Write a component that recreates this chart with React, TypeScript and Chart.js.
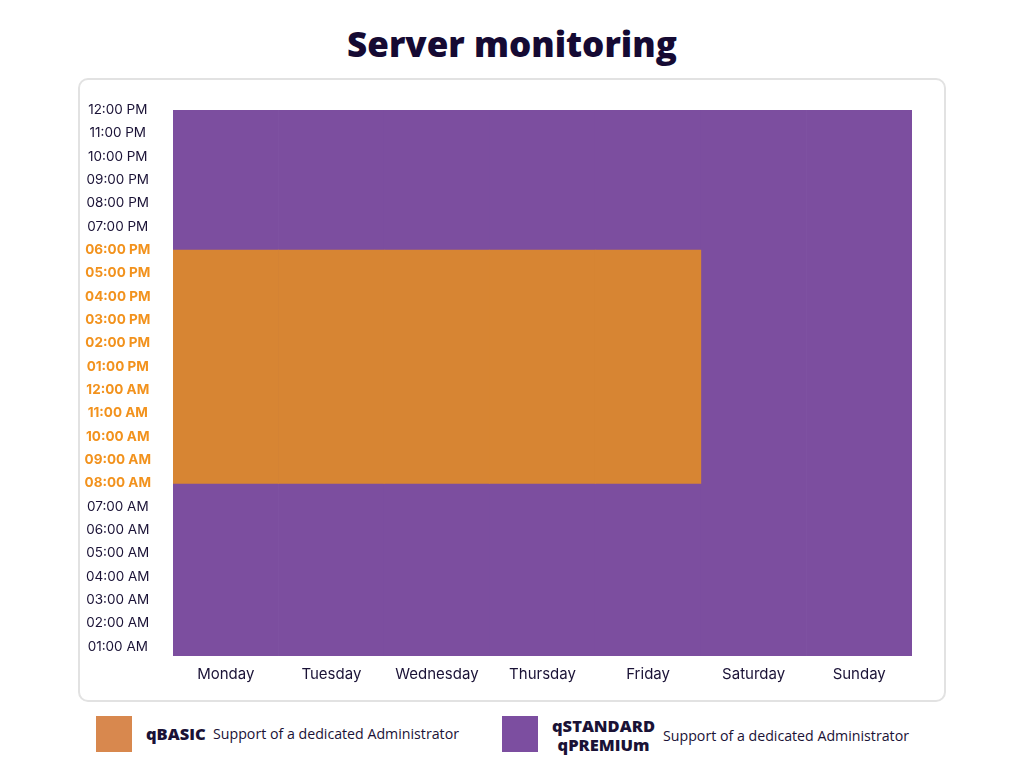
import React, { useEffect, useRef } from 'react';
import { Chart, registerables } from 'chart.js';

Chart.register(...registerables);

const days = ['Monday', 'Tuesday', 'Wednesday', 'Thursday', 'Friday', 'Saturday', 'Sunday'];
const hourValues = [1, 2, 3, 4, 5, 6, 7, 8, 9, 10, 11, 12, 13, 14, 15, 16, 17, 18, 19, 20, 21, 22, 23, 24];
const hourLabels = [
  '01:00 AM', '02:00 AM', '03:00 AM', '04:00 AM', '05:00 AM', '06:00 AM', '07:00 AM', '08:00 AM',
  '09:00 AM', '10:00 AM', '11:00 AM', '12:00 AM', '01:00 PM', '02:00 PM', '03:00 PM', '04:00 PM',
  '05:00 PM', '06:00 PM', '07:00 PM', '08:00 PM', '09:00 PM', '10:00 PM', '11:00 PM', '12:00 PM',
];
const basicStart = 8;
const basicEnd = 18;
const basicCoverage = [[8, 18], [8, 18], [8, 18], [8, 18], [8, 18], null, null];
const premiumCoverage = [[0, 24], [0, 24], [0, 24], [0, 24], [0, 24], [0, 24], [0, 24]];

const PURPLE = '#7C4E9F';
const ORANGE = '#D78533';
const LABEL_ORANGE = '#F2921D';
const DARK = '#1A1236';
const FONT = 'Inter, "Open Sans", sans-serif';

export default function App() {
  const canvasRef = useRef<HTMLCanvasElement | null>(null);

  useEffect(() => {
    if (!canvasRef.current) return;
    const chart = new Chart(canvasRef.current, {
      type: 'bar',
      data: {
        labels: days,
        datasets: [
          {
            label: 'qBASIC',
            data: basicCoverage as any,
            backgroundColor: ORANGE,
            barPercentage: 1,
            categoryPercentage: 1,
            grouped: false,
            borderWidth: 0,
          },
          {
            label: 'qSTANDARD qPREMIUm',
            data: premiumCoverage as any,
            backgroundColor: PURPLE,
            barPercentage: 1,
            categoryPercentage: 1,
            grouped: false,
            borderWidth: 0,
          },
        ],
      },
      options: {
        animation: false,
        responsive: true,
        maintainAspectRatio: false,
        layout: { autoPadding: false, padding: { left: 0, top: 29, right: 32, bottom: 0 } },
        plugins: { legend: { display: false }, tooltip: { enabled: false }, title: { display: false } },
        scales: {
          x: {
            grid: { display: false },
            border: { display: false },
            ticks: {
              color: DARK,
              padding: 1,
              font: { family: FONT, size: 15 },
              maxRotation: 0,
            },
            afterFit: (scale: any) => {
              scale.height = 44;
            },
          },
          y: {
            min: 0.6,
            max: 24,
            grid: { display: false, drawTicks: false },
            border: { display: false },
            afterBuildTicks: (scale: any) => {
              scale.ticks = hourValues.map((v) => ({ value: v }));
            },
            afterFit: (scale: any) => {
              scale.width = 93;
            },
            ticks: {
              crossAlign: 'center',
              padding: 22,
              autoSkip: false,
              callback: (v: any) => hourLabels[Number(v) - 1],
              color: (ctx: any) =>
                ctx.tick && ctx.tick.value >= basicStart && ctx.tick.value <= basicEnd ? LABEL_ORANGE : DARK,
              font: (ctx: any) => ({
                family: FONT,
                size: 13.5,
                weight: ctx.tick && ctx.tick.value >= basicStart && ctx.tick.value <= basicEnd ? 'bold' : 'normal',
              }),
            },
          },
        },
      },
    });
    return () => chart.destroy();
  }, []);

  return (
    <div style={{ position: 'absolute', left: 0, top: 0, width: 1024, height: 768, background: '#fff', fontFamily: FONT }}>
      <div
        style={{
          position: 'absolute',
          left: 0,
          top: 20,
          width: 1024,
          textAlign: 'center',
          fontSize: 35,
          fontWeight: 800,
          color: '#150A33',
          lineHeight: '48px',
          fontFamily: '"Open Sans", Inter, sans-serif',
        }}
      >
        Server monitoring
      </div>
      <div
        style={{
          position: 'absolute',
          left: 78,
          top: 78,
          width: 868,
          height: 624,
          border: '2px solid #E2E2E2',
          borderRadius: 10,
          boxSizing: 'border-box',
        }}
      >
        <div style={{ position: 'absolute', left: 0, top: 0, width: 864, height: 620 }}>
          <canvas ref={canvasRef} />
        </div>
      </div>
      <div style={{ position: 'absolute', left: 96, top: 716, width: 36, height: 36, background: '#D8884E' }} />
      <div
        style={{
          position: 'absolute',
          left: 146,
          top: 723,
          fontSize: 16.5,
          fontWeight: 800,
          color: DARK,
          fontFamily: '"Open Sans", sans-serif',
          lineHeight: '22px',
        }}
      >
        qBASIC
      </div>
      <div style={{ position: 'absolute', left: 213, top: 725, fontSize: 14.2, color: DARK, lineHeight: '18px', fontFamily: '"Open Sans", sans-serif' }}>
        Support of a dedicated Administrator
      </div>
      <div style={{ position: 'absolute', left: 502, top: 716, width: 36, height: 36, background: '#7C4EA0' }} />
      <div
        style={{
          position: 'absolute',
          left: 552,
          top: 716,
          fontSize: 16.5,
          fontWeight: 800,
          color: DARK,
          fontFamily: '"Open Sans", sans-serif',
          lineHeight: '19px',
          textAlign: 'center',
        }}
      >
        qSTANDARD
        <br />
        qPREMIUm
      </div>
      <div style={{ position: 'absolute', left: 663, top: 727, fontSize: 14.2, color: DARK, lineHeight: '18px', fontFamily: '"Open Sans", sans-serif' }}>
        Support of a dedicated Administrator
      </div>
    </div>
  );
}
